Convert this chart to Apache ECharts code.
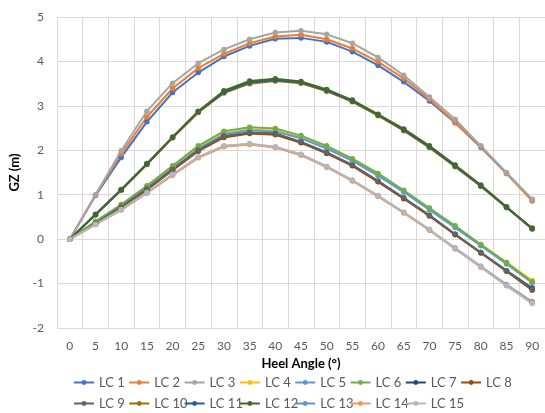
<!DOCTYPE html>
<html><head><meta charset="utf-8">
<script src="https://cdn.jsdelivr.net/npm/echarts@6/dist/echarts.min.js"></script>
<style>html,body{margin:0;padding:0;background:#fff}#c{width:545px;height:413px}</style>
</head><body><div id="c"></div>
<script>
const categories = ['0','5','10','15','20','25','30','35','40','45','50','55','60','65','70','75','80','85','90'];
const seriesNames = ['LC 1','LC 2','LC 3','LC 4','LC 5','LC 6','LC 7','LC 8','LC 9','LC 10','LC 11','LC 12','LC 13','LC 14','LC 15'];
const colors = ['#4472C4','#ED7D31','#A5A5A5','#FFC000','#5B9BD5','#70AD47','#264478','#9E480E','#636363','#997300','#255E91','#43682B','#698ED0','#F1975A','#B7B7B7'];
const lc1  = [0,0.98,1.84,2.64,3.30,3.75,4.11,4.35,4.51,4.53,4.44,4.22,3.91,3.54,3.11,2.62,2.07,1.48,0.88];
const lc2  = [0,0.99,1.92,2.75,3.39,3.85,4.17,4.41,4.56,4.60,4.50,4.29,3.99,3.62,3.15,2.63,2.08,1.48,0.86];
const lc3  = [0,1.00,1.99,2.88,3.51,3.96,4.27,4.50,4.65,4.69,4.61,4.41,4.09,3.69,3.20,2.70,2.10,1.50,0.90];
const lc4  = [0,0.38,0.76,1.17,1.61,2.05,2.38,2.47,2.44,2.29,2.06,1.78,1.45,1.08,0.69,0.29,-0.12,-0.52,-0.93];
const lc5  = [0,0.37,0.75,1.15,1.59,2.03,2.36,2.45,2.42,2.27,2.04,1.76,1.43,1.06,0.66,0.26,-0.15,-0.56,-0.98];
const lc6  = [0,0.40,0.78,1.20,1.65,2.10,2.43,2.52,2.49,2.33,2.10,1.81,1.48,1.10,0.70,0.30,-0.12,-0.53,-0.96];
const lc7  = [0,0.35,0.72,1.12,1.56,1.99,2.31,2.39,2.37,2.18,1.94,1.66,1.30,0.92,0.53,0.11,-0.30,-0.71,-1.10];
const lc8  = [0,0.34,0.71,1.11,1.55,1.98,2.29,2.38,2.35,2.17,1.93,1.65,1.29,0.91,0.52,0.10,-0.31,-0.72,-1.15];
const lc9  = [0,0.35,0.72,1.13,1.57,2.00,2.32,2.40,2.38,2.19,1.95,1.67,1.31,0.93,0.54,0.11,-0.30,-0.71,-1.13];
const lc10 = [0,0.55,1.10,1.68,2.28,2.85,3.29,3.50,3.56,3.51,3.33,3.09,2.78,2.44,2.06,1.63,1.19,0.71,0.25];
const lc11 = [0,0.55,1.11,1.69,2.29,2.87,3.31,3.53,3.58,3.53,3.35,3.11,2.80,2.46,2.08,1.65,1.20,0.72,0.23];
const lc12 = [0,0.56,1.12,1.70,2.30,2.88,3.34,3.56,3.61,3.55,3.37,3.13,2.81,2.48,2.10,1.67,1.22,0.73,0.24];
const lc13 = [0,0.33,0.66,1.04,1.45,1.84,2.09,2.14,2.07,1.90,1.63,1.32,0.97,0.60,0.21,-0.20,-0.61,-1.02,-1.41];
const lc14 = [0,0.33,0.66,1.04,1.44,1.83,2.08,2.13,2.06,1.89,1.62,1.31,0.96,0.59,0.20,-0.22,-0.63,-1.05,-1.43];
const lc15 = [0,0.33,0.67,1.05,1.46,1.85,2.10,2.15,2.08,1.91,1.64,1.33,0.98,0.61,0.22,-0.21,-0.62,-1.04,-1.45];
const yTicks = [-2,-1,0,1,2,3,4,5];

const allData = [lc1,lc2,lc3,lc4,lc5,lc6,lc7,lc8,lc9,lc10,lc11,lc12,lc13,lc14,lc15];
const FONT = 'Lato';
const series = seriesNames.map((n,i)=>({
  name:n, type:'line', data:allData[i], symbol:'circle', symbolSize:5.5,
  lineStyle:{width:2,color:colors[i]}, itemStyle:{color:colors[i]}, emphasis:{disabled:true}
}));
const legends = seriesNames.map((n,i)=>({
  data:[n], left: 73 + (i%8)*55.3, top: (i<8?376:397), orient:'horizontal',
  itemWidth:20, itemHeight:6, itemGap:0, padding:0,
  textStyle:{fontFamily:FONT,fontSize:13,color:'#595959'}
}));
const chart = echarts.init(document.getElementById('c'),null,{renderer:'canvas'});
chart.setOption({
  animation:false,
  color:colors,
  grid:{left:57,right:-2,top:17,bottom:85,containLabel:false},
  xAxis:{type:'category',data:categories,boundaryGap:true,
    name:'Heel Angle (°)',nameLocation:'middle',nameGap:25,
    nameTextStyle:{fontFamily:FONT,fontSize:13,fontWeight:'bold',color:'#000'},
    axisLine:{show:false,onZero:false},axisTick:{show:false},
    axisLabel:{interval:0,fontFamily:FONT,fontSize:12,color:'#595959',margin:12},
    splitLine:{show:true,interval:0,lineStyle:{color:'#D9D9D9',width:1}}},
  yAxis:{type:'value',min:yTicks[0],max:yTicks[yTicks.length-1],interval:1,
    name:'GZ (m)',nameLocation:'middle',nameGap:28,
    nameTextStyle:{fontFamily:FONT,fontSize:13,fontWeight:'bold',color:'#000'},
    axisLine:{show:false},axisTick:{show:false},
    axisLabel:{fontFamily:FONT,fontSize:12,color:'#595959',margin:13},
    splitLine:{show:true,lineStyle:{color:'#D9D9D9',width:1}}},
  legend:legends,
  series:series
});
</script></body></html>
